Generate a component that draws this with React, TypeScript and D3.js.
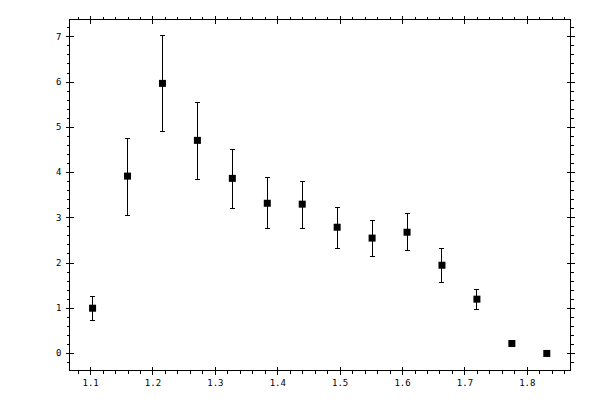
import React, {useEffect, useRef} from 'react';
import * as d3 from 'd3';

// measured points (x, value, upper / lower end of the error bar)
const xValues = [1.104, 1.160, 1.216, 1.272, 1.328, 1.384, 1.440, 1.496, 1.552, 1.608, 1.664, 1.720, 1.776, 1.832];
const yValues = [0.99, 3.91, 5.96, 4.70, 3.86, 3.31, 3.29, 2.78, 2.54, 2.67, 1.94, 1.19, 0.21, -0.01];
const yUpper = [1.25, 4.75, 7.02, 5.54, 4.50, 3.88, 3.80, 3.22, 2.93, 3.09, 2.31, 1.41, 0.24, 0.02];
const yLower = [0.72, 3.04, 4.90, 3.84, 3.20, 2.76, 2.76, 2.31, 2.14, 2.27, 1.56, 0.97, 0.18, -0.04];

// tick labels
const xTicks = [1.1, 1.2, 1.3, 1.4, 1.5, 1.6, 1.7, 1.8];
const yTicks = [0, 1, 2, 3, 4, 5, 6, 7];

interface Point {
  x: number
  y: number
  hi: number
  lo: number
}

const width = 600;
const height = 400;
const font = "'DejaVu Sans Mono', monospace";

const App: React.FC = () => {
  const ref = useRef<SVGSVGElement>(null);

  useEffect(() => {
    const svg = d3.select(ref.current!);
    svg.selectAll("*").remove();

    const data: Point[] = xValues.map((x, i) => ({x, y: yValues[i], hi: yUpper[i], lo: yLower[i]}));

    const x = d3.scaleLinear([1.067, 1.870], [69.5, 570.5]);
    const y = d3.scaleLinear([-0.387, 7.372], [370.5, 19.5]);

    // minor ticks every 0.02 / 0.2, skipping the major ones
    const xMinor = d3.range(1.08, 1.87, 0.02).filter(v => Math.abs(v * 10 - Math.round(v * 10)) > 0.01);
    const yMinor = d3.range(-0.2, 7.3, 0.2).filter(v => Math.abs(v - Math.round(v)) > 0.01);

    const style = (g: any) => g
    .attr("font-family", font)
    .attr("font-size", 9)
    .attr("shape-rendering", "crispEdges")
    .call((g: any) => g.select(".domain").remove());

    // bottom axis, labelled
    svg.append("g")
    .attr("transform", `translate(0,${y.range()[0]})`)
    .call(d3.axisBottom(x).tickValues(xTicks).tickSize(4).tickPadding(5).tickFormat(d3.format(".1f")))
    .call(style)
    .call(g => g.selectAll(".tick line").attr("y1", -4));
    svg.append("g")
    .attr("transform", `translate(0,${y.range()[0]})`)
    .call(d3.axisBottom(x).tickValues(xMinor).tickSize(3).tickFormat(() => ""))
    .call(style);

    // top axis
    svg.append("g")
    .attr("transform", `translate(0,${y.range()[1]})`)
    .call(d3.axisTop(x).tickValues(xTicks).tickSize(4).tickFormat(() => ""))
    .call(style)
    .call(g => g.selectAll(".tick line").attr("y1", 4));
    svg.append("g")
    .attr("transform", `translate(0,${y.range()[1]})`)
    .call(d3.axisTop(x).tickValues(xMinor).tickSize(3).tickFormat(() => ""))
    .call(style);

    // left axis, labelled
    svg.append("g")
    .attr("transform", `translate(${x.range()[0]},0)`)
    .call(d3.axisLeft(y).tickValues(yTicks).tickSize(4).tickPadding(4).tickFormat(d3.format("d")))
    .call(style)
    .call(g => g.selectAll(".tick line").attr("x1", 4));
    svg.append("g")
    .attr("transform", `translate(${x.range()[0]},0)`)
    .call(d3.axisLeft(y).tickValues(yMinor).tickSize(3).tickFormat(() => ""))
    .call(style);

    // right axis
    svg.append("g")
    .attr("transform", `translate(${x.range()[1]},0)`)
    .call(d3.axisRight(y).tickValues(yTicks).tickSize(4).tickFormat(() => ""))
    .call(style)
    .call(g => g.selectAll(".tick line").attr("x1", -4));
    svg.append("g")
    .attr("transform", `translate(${x.range()[1]},0)`)
    .call(d3.axisRight(y).tickValues(yMinor).tickSize(3).tickFormat(() => ""))
    .call(style);

    // frame
    svg.append("rect")
    .attr("x", x.range()[0])
    .attr("y", y.range()[1])
    .attr("width", x.range()[1] - x.range()[0])
    .attr("height", y.range()[0] - y.range()[1])
    .attr("fill", "none")
    .attr("stroke", "black")
    .attr("shape-rendering", "crispEdges");

    // error bars
    const bars = svg.append("g")
    .attr("stroke", "black")
    .attr("stroke-width", 1)
    .attr("shape-rendering", "crispEdges")
    .selectAll("g")
    .data(data)
    .join("g");

    bars.append("line")
    .attr("x1", d => x(d.x)).attr("x2", d => x(d.x))
    .attr("y1", d => y(d.hi)).attr("y2", d => y(d.lo));
    bars.append("line")
    .attr("x1", d => x(d.x) - 2.5).attr("x2", d => x(d.x) + 2.5)
    .attr("y1", d => y(d.hi)).attr("y2", d => y(d.hi));
    bars.append("line")
    .attr("x1", d => x(d.x) - 2.5).attr("x2", d => x(d.x) + 2.5)
    .attr("y1", d => y(d.lo)).attr("y2", d => y(d.lo));

    // square markers
    svg.append("g")
    .selectAll("rect")
    .data(data)
    .join("rect")
    .attr("x", d => x(d.x) - 3.5)
    .attr("y", d => y(d.y) - 3.5)
    .attr("width", 7)
    .attr("height", 7)
    .attr("fill", "black");
  }, []);

  return <svg ref={ref} width={width} height={height}
              style={{position: "absolute", left: 0, top: 0, background: "white"}}/>;
};

export default App;
